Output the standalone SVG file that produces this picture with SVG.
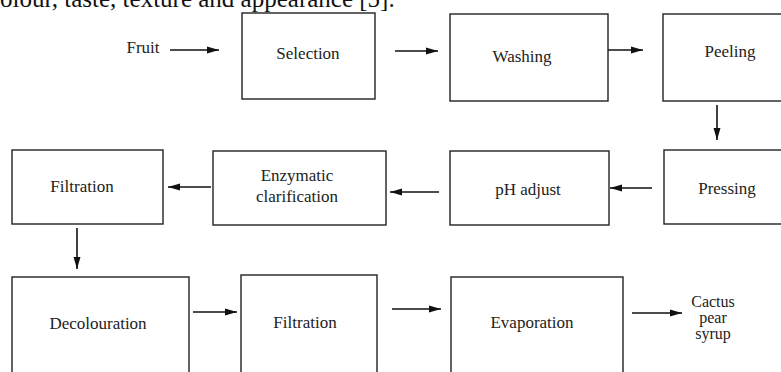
<svg xmlns="http://www.w3.org/2000/svg" width="781" height="372" viewBox="0 0 781 372">
<style>
text{font-size:17px;fill:#222;text-anchor:middle}
.box{fill:#fff;stroke:#222;stroke-width:1.4}
.edge{stroke:#111;stroke-width:1.6;fill:none;marker-end:url(#ah)}
</style>
<defs>
<marker id="ah" markerWidth="12" markerHeight="8" refX="12" refY="4" orient="auto" markerUnits="userSpaceOnUse">
<path d="M0,0.5 L12,4 L0,7.5 Z" fill="#111"/>
</marker>
</defs>
<rect width="781" height="372" fill="#fff"/>
<g font-family="'Liberation Serif', 'Times New Roman', serif">
<text x="0" y="7" style="font-size:25px;text-anchor:start;fill:#111">olour, taste, texture and appearance [5].</text>
<g id="fruit"><text x="143" y="53">Fruit</text></g>
<g id="selection"><rect class="box" x="242" y="13" width="133" height="86"/><text x="308" y="59">Selection</text></g>
<g id="washing"><rect class="box" x="450" y="14" width="158" height="87"/><text x="522" y="62">Washing</text></g>
<g id="peeling"><rect class="box" x="663" y="14" width="140" height="87"/><text x="730" y="57">Peeling</text></g>
<g id="pressing"><rect class="box" x="664" y="150" width="140" height="74"/><text x="727" y="194">Pressing</text></g>
<g id="ph"><rect class="box" x="450" y="151" width="159" height="74"/><text x="528" y="195">pH adjust</text></g>
<g id="enzymatic"><rect class="box" x="213" y="151" width="173" height="74"/><text x="297" y="181">Enzymatic</text><text x="297" y="202">clarification</text></g>
<g id="filtration1"><rect class="box" x="12" y="150" width="151" height="74"/><text x="82" y="192">Filtration</text></g>
<g id="decolouration"><rect class="box" x="12" y="277" width="177" height="110"/><text x="98" y="329">Decolouration</text></g>
<g id="filtration2"><rect class="box" x="241" y="275" width="136" height="110"/><text x="305" y="328">Filtration</text></g>
<g id="evaporation"><rect class="box" x="451" y="277" width="172" height="110"/><text x="532" y="328">Evaporation</text></g>
<g id="syrup" style="font-size:16px"><text x="713" y="307" style="font-size:16px">Cactus</text><text x="713" y="323" style="font-size:16px">pear</text><text x="713" y="339" style="font-size:16px">syrup</text></g>
</g>
<g id="connectors">
<line class="edge" x1="170" y1="50" x2="219" y2="50"/>
<line class="edge" x1="395" y1="51" x2="438" y2="51"/>
<line class="edge" x1="608" y1="50" x2="643" y2="50"/>
<line class="edge" x1="717" y1="105" x2="717" y2="140"/>
<line class="edge" x1="652" y1="188" x2="610" y2="188"/>
<line class="edge" x1="439" y1="192" x2="390" y2="192"/>
<line class="edge" x1="211" y1="187" x2="168" y2="187"/>
<line class="edge" x1="77" y1="228" x2="77" y2="269"/>
<line class="edge" x1="193" y1="312" x2="237" y2="312"/>
<line class="edge" x1="392" y1="309" x2="441" y2="309"/>
<line class="edge" x1="632" y1="313" x2="682" y2="313"/>
</g>
</svg>
